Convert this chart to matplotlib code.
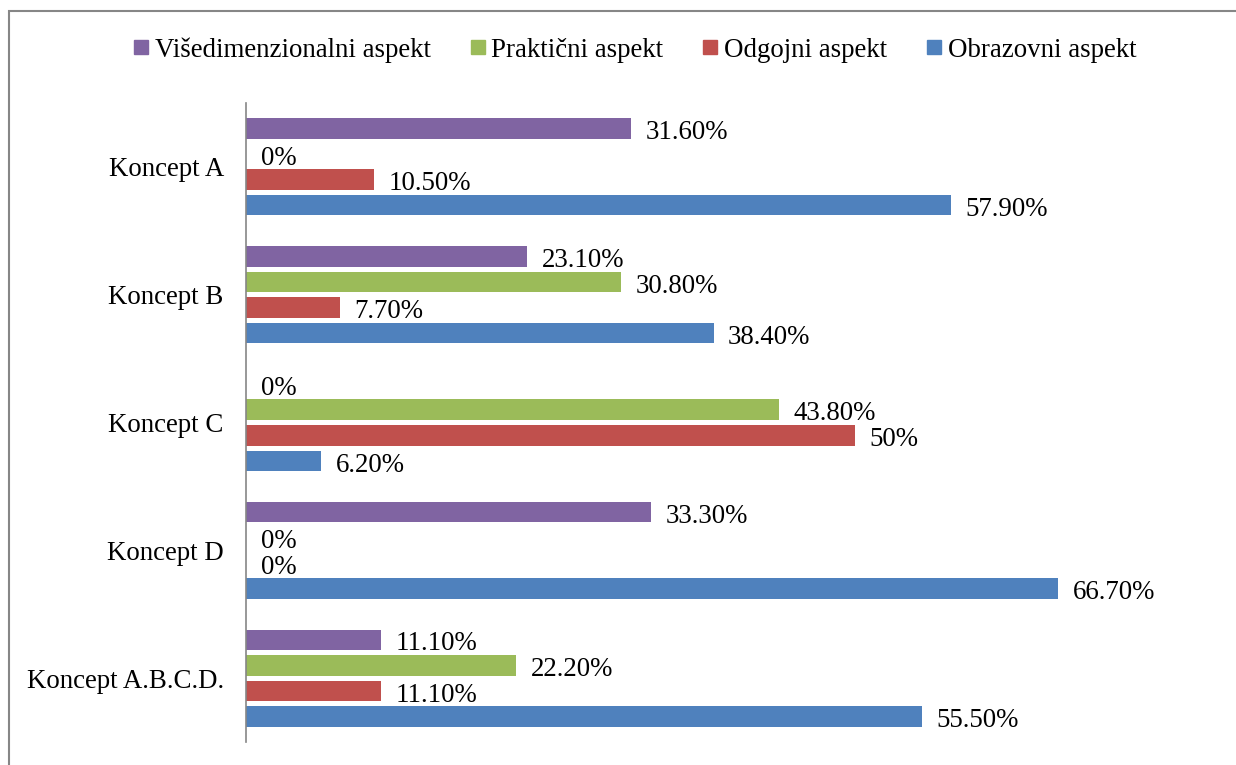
import numpy as np
import matplotlib
matplotlib.use("Agg")
import matplotlib.pyplot as plt
from matplotlib.lines import Line2D
from matplotlib.patches import Rectangle

plt.rcParams['font.family'] = ['Liberation Serif', 'DejaVu Serif']

categories = ["Koncept A", "Koncept B", "Koncept C", "Koncept D", "Koncept A.B.C.D."]
series = ["Višedimenzionalni aspekt", "Praktični aspekt", "Odgojni aspekt", "Obrazovni aspekt"]
visedim = [31.6, 23.1, 0, 33.3, 11.1]
prakticni = [0, 30.8, 43.8, 0, 22.2]
odgojni = [10.5, 7.7, 50, 0, 11.1]
obrazovni = [57.9, 38.4, 6.2, 66.7, 55.5]
values = [visedim, prakticni, odgojni, obrazovni]
colors = ["#8064a2", "#9bbb59", "#c0504d", "#4f81bd"]

fs = 19.4
fig = plt.figure(figsize=(12.36, 7.65), dpi=100)
ax = fig.add_axes([246 / 1236, 1 - 742 / 765, (1220 - 246) / 1236, (742 - 103) / 765])

y = np.arange(len(categories))
for i, (vals, col) in enumerate(zip(values, colors)):
    pos = y - 0.3 + i * 0.2
    ax.barh(pos, vals, height=0.16, color=col)
    for p, v in zip(pos, vals):
        lab = "0%" if v == 0 else ("%g%%" % v if v == int(v) else "%.2f%%" % v)
        ax.annotate(lab, (v, p), xytext=(10.5, -3), textcoords="offset points",
                    ha="left", va="center", fontsize=fs)

ax.set_xlim(0, 80)
ax.set_ylim(4.5, -0.5)
ax.set_yticks(y)
ax.set_yticklabels(categories, fontsize=fs)
ax.tick_params(axis="y", length=0, pad=16)
ax.set_xticks([])
for s in ["top", "right", "bottom"]:
    ax.spines[s].set_visible(False)
ax.spines["left"].set_color("#868686")
ax.spines["left"].set_linewidth(1.2)

handles = [Line2D([], [], marker="s", linestyle="none", markersize=9.5, color=c) for c in colors]
fig.legend(handles, series, loc="center", bbox_to_anchor=(0.514, 1 - 50 / 765), ncol=4,
           frameon=False, fontsize=fs, handlelength=0.5, handletextpad=0.25,
           columnspacing=1.5)

fig.patches.append(Rectangle((9 / 1236, -0.1), 1.2, 1 - 11.5 / 765 + 0.1, transform=fig.transFigure,
                             fill=False, edgecolor="#868686", linewidth=1.5))

fig.savefig("out.png", dpi=100)
